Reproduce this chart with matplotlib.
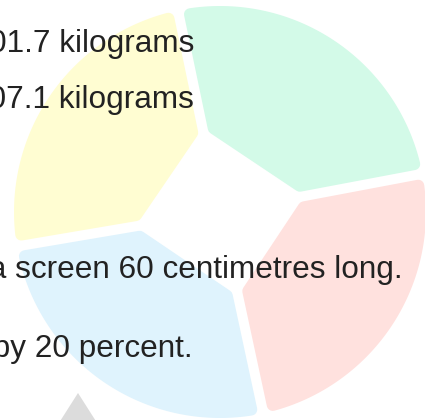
import numpy as np
import matplotlib
matplotlib.use("Agg")
import matplotlib.pyplot as plt
from matplotlib.patches import Polygon

# share of each slice, counter-clockwise from the start angle
values = [25.3, 24.4, 25.7, 24.6]
colors = ["#d3fae8", "#fffdd2", "#dff3fd", "#ffe1de"]
start_angle = 10.7

# overlay text lines (cut off on the left in the original)
lines = [
    "Average weight: 101.7 kilograms",
    "Maximum weight: 107.1 kilograms",
    "It has a screen 60 centimetres long.",
    "Sales went up by 20 percent.",
]
line_right = [194, 194, 403, 193]
line_base = [52, 108, 278, 357]

W, H, DPI = 425, 420, 100
cx, cy = 220, 212
r_out, r_in = 206, 84
gap, rc = 10, 6

fig = plt.figure(figsize=(W / DPI, H / DPI), dpi=DPI)
ax = fig.add_axes([0, 0, 1, 1])
ax.set_xlim(0, W)
ax.set_ylim(H, 0)
ax.axis("off")


def pt(r, a):
    return cx + r * np.cos(a), cy - r * np.sin(a)


def slice_shape(a1, a2):
    a1, a2 = np.radians(a1), np.radians(a2)
    s = gap / 2 + rc
    ro = r_out - rc
    ri = r_in
    b1 = a1 + np.arcsin(s / ro)
    b2 = a2 - np.arcsin(s / ro)
    arc = [pt(ro, t) for t in np.linspace(b1, b2, 80)]
    c2 = pt(ri, a2 - np.arcsin(s / ri))
    c1 = pt(ri, a1 + np.arcsin(s / ri))
    return arc + [c2, c1]


bounds = start_angle + np.concatenate([[0], np.cumsum(values)]) / sum(values) * 360
for i, col in enumerate(colors):
    poly = Polygon(slice_shape(bounds[i], bounds[i + 1]), closed=True,
                   facecolor=col, edgecolor=col, linewidth=2 * rc * 72 / DPI,
                   joinstyle="round")
    ax.add_patch(poly)

# pointer triangle at the bottom
ax.add_patch(Polygon([(78, 393), (57, 426), (99, 426)], closed=True,
                     facecolor="#dcdcdc", edgecolor="none"))

for txt, x, y in zip(lines, line_right, line_base):
    ax.text(x, y, txt, ha="right", va="baseline", fontsize=22.7,
            family="Liberation Sans", color="#222222")

fig.savefig("out.png", dpi=DPI)
